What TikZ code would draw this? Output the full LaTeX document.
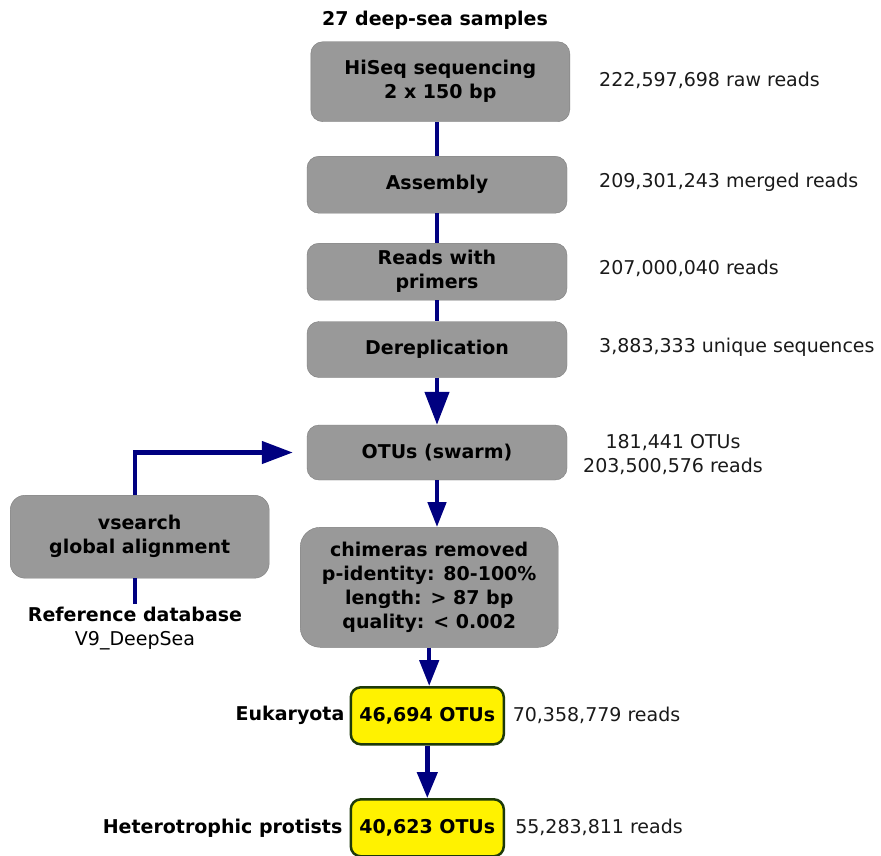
\documentclass[tikz,border=0pt]{standalone}
\usepackage{fontspec}
\setmainfont{DejaVu Sans}
\usetikzlibrary{arrows.meta,positioning}

\definecolor{navyline}{RGB}{0,0,128}
\definecolor{boxgray}{RGB}{153,153,153}
\definecolor{boxedge}{RGB}{125,125,125}
\definecolor{otuedge}{RGB}{30,58,10}
\definecolor{countgray}{RGB}{26,26,26}
\newcommand{\flowfont}{\fontsize{19}{24}\selectfont}

\begin{document}
\begin{tikzpicture}[x=1pt, y=-1pt,
    every node/.style={font=\flowfont, inner sep=0pt},
    box/.style={draw=boxedge, fill=boxgray, rounded corners=12pt, align=center, font=\flowfont\bfseries},
    otubox/.style={draw=otuedge, fill=yellow, line width=2.5pt, rounded corners=10pt, font=\flowfont\bfseries, minimum width=153pt, minimum height=57pt},
    count/.style={text=countgray, align=center},
    flow/.style={draw=navyline, line width=4.5pt}]
    \useasboundingbox[fill=white] (0, 0) rectangle (881, 855);

    \node[font=\flowfont\bfseries] (title) at (435, 20) {27 deep-sea samples};

    \node[box, minimum width=259pt, minimum height=80pt] (hiseq) at (440.3, 81.7) {HiSeq sequencing\\2 x 150 bp};
    \node[box, minimum width=260pt, minimum height=57pt] (assembly) at (437, 184.7) {Assembly};
    \node[box, minimum width=260pt, minimum height=57pt] (primers) at (437, 271.7) {Reads with\\primers};
    \node[box, minimum width=260pt, minimum height=56pt] (derep) at (437, 349.5) {Dereplication};
    \node[box, minimum width=260pt, minimum height=55pt] (otus) at (437, 452.5) {OTUs (swarm)};
    \node[box, minimum width=258pt, minimum height=120pt, rounded corners=20pt] (chimeras) at (429.2, 587.3) {chimeras removed\\p-identity: 80-100\%\\length: > 87 bp\\quality: < 0.002};
    \node[box, minimum width=259pt, minimum height=83pt, rounded corners=15pt] (vsearch) at (139.7, 536.7) {vsearch\\global alignment};
    \node[align=center, anchor=north, inner sep=3pt] (refdb) at (135, 604) {\textbf{Reference database}\\V9\_DeepSea};

    \node[otubox] (euk) at (427.3, 715.8) {46,694 OTUs};
    \node[otubox] (hetero) at (427.3, 827.8) {40,623 OTUs};
    \node[font=\flowfont\bfseries, left=5pt of euk] (euklabel) {Eukaryota};
    \node[font=\flowfont\bfseries, left=7pt of hetero] (heterolabel) {Heterotrophic protists};

    % read counts
    \node[count, anchor=west] (rawreads) at (599, 80) {222,597,698 raw reads};
    \node[count, anchor=west] (mergedreads) at (599, 182) {209,301,243 merged reads};
    \node[count, anchor=west] (primerreads) at (599, 268) {207,000,040 reads};
    \node[count, anchor=west] (uniqueseqs) at (599, 347) {3,883,333 unique sequences};
    \node[count] (otucount) at (673, 455) {181,441 OTUs\\203,500,576 reads};
    \node[count, right=7.5pt of euk] (eukreads) {70,358,779 reads};
    \node[count, right=10pt of hetero] (heteroreads) {55,283,811 reads};

    \draw[flow] (hiseq.south -| assembly) -- (assembly.north);
    \draw[flow] (assembly) -- (primers);
    \draw[flow] (primers) -- (derep);
    \draw[flow, -{Triangle[length=33pt, width=24pt]}] (derep) -- (otus);
    \draw[flow, -{Triangle[length=25pt, width=18pt]}] (otus.south) -- (otus.south |- chimeras.north);
    \draw[flow, -{Triangle[length=26pt, width=19pt]}] (chimeras.south) -- (chimeras.south |- euk.north);
    \draw[flow, -{Triangle[length=26pt, width=20pt]}] (euk) -- (hetero);
    \draw[flow] (refdb.north) -- (refdb.north |- vsearch.south);
    \draw[flow, -{Triangle[length=31pt, width=22pt]}, shorten >=14pt] (refdb.north |- vsearch.north) |- (otus.west);
\end{tikzpicture}
\end{document}
